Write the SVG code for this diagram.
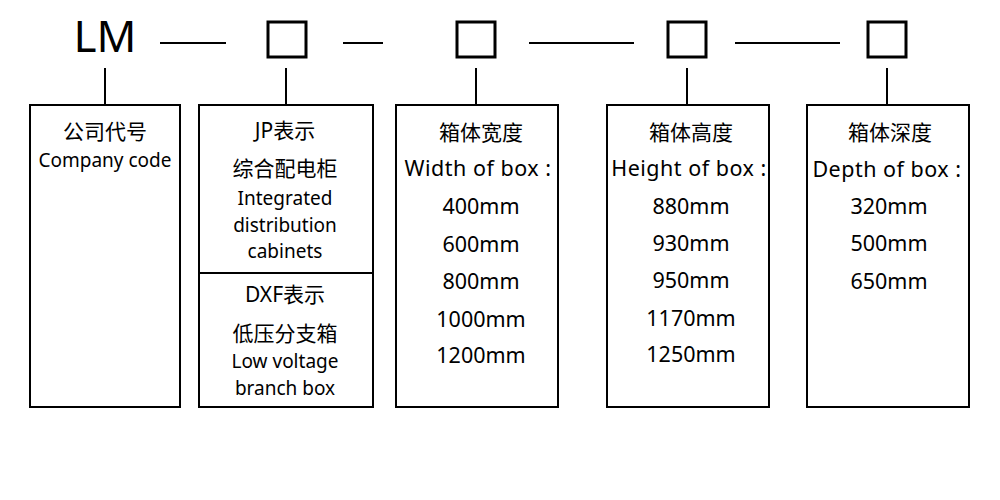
<svg xmlns="http://www.w3.org/2000/svg" width="1000" height="500" viewBox="0 0 1000 500">
<style>
.box{fill:#fff;stroke:#000;stroke-width:2}
.sq{fill:none;stroke:#000;stroke-width:3}
.ln{stroke:#000;stroke-width:2;fill:none}
text{font-family:"Noto Sans","Noto Sans CJK SC",sans-serif;fill:#000;text-anchor:middle}
.t{font-size:21px}
.e{font-size:19px}
.n{font-size:21.5px}
.h{font-size:21.5px;letter-spacing:0.5px}
</style>
<rect width="1000" height="500" fill="#fff"/>
<g id="connectors">
<line class="ln" x1="160" y1="43" x2="226" y2="43"/>
<line class="ln" x1="343" y1="43" x2="383" y2="43"/>
<line class="ln" x1="529" y1="43" x2="634" y2="43"/>
<line class="ln" x1="735" y1="43" x2="840" y2="43"/>
<line class="ln" x1="105" y1="68" x2="105" y2="105"/>
<line class="ln" x1="286" y1="68" x2="286" y2="105"/>
<line class="ln" x1="476" y1="68" x2="476" y2="105"/>
<line class="ln" x1="687" y1="68" x2="687" y2="105"/>
<line class="ln" x1="887" y1="68" x2="887" y2="105"/>
</g>
<g id="code-LM"><text x="105" y="52" style="font-size:44px">LM</text></g>
<g id="sq1"><rect class="sq" x="268" y="22" width="38" height="35"/></g>
<g id="sq2"><rect class="sq" x="457" y="22" width="38" height="35"/></g>
<g id="sq3"><rect class="sq" x="668" y="22" width="38" height="35"/></g>
<g id="sq4"><rect class="sq" x="868" y="22" width="38" height="35"/></g>
<g id="box-company">
<rect class="box" x="30" y="105" width="150" height="302"/>
<text class="t" x="105" y="139">公司代号</text>
<text class="e" x="105" y="167">Company code</text>
</g>
<g id="box-type">
<rect class="box" x="199" y="105" width="174" height="302"/>
<line class="ln" x1="199" y1="273" x2="373" y2="273"/>
<text class="t" x="285" y="138">JP表示</text>
<text class="t" x="285" y="176">综合配电柜</text>
<text class="e" x="285" y="205">Integrated</text>
<text class="e" x="285" y="232">distribution</text>
<text class="e" x="285" y="258">cabinets</text>
<text class="t" x="285" y="302">DXF表示</text>
<text class="t" x="285" y="341">低压分支箱</text>
<text class="e" x="285" y="368">Low voltage</text>
<text class="e" x="285" y="395">branch box</text>
</g>
<g id="box-width">
<rect class="box" x="396" y="105" width="162" height="302"/>
<text class="t" x="481" y="140">箱体宽度</text>
<text class="h" x="478" y="176">Width of box :</text>
<text class="n" x="481" y="214">400mm</text>
<text class="n" x="481" y="252">600mm</text>
<text class="n" x="481" y="289">800mm</text>
<text class="n" x="481" y="327">1000mm</text>
<text class="n" x="481" y="363">1200mm</text>
</g>
<g id="box-height">
<rect class="box" x="607" y="105" width="162" height="302"/>
<text class="t" x="691" y="140">箱体高度</text>
<text class="h" x="689" y="176">Height of box :</text>
<text class="n" x="691" y="214">880mm</text>
<text class="n" x="691" y="251">930mm</text>
<text class="n" x="691" y="288">950mm</text>
<text class="n" x="691" y="326">1170mm</text>
<text class="n" x="691" y="362">1250mm</text>
</g>
<g id="box-depth">
<rect class="box" x="807" y="105" width="162" height="302"/>
<text class="t" x="890" y="140">箱体深度</text>
<text class="h" x="887" y="177">Depth of box :</text>
<text class="n" x="889" y="214">320mm</text>
<text class="n" x="889" y="251">500mm</text>
<text class="n" x="889" y="289">650mm</text>
</g>
</svg>
